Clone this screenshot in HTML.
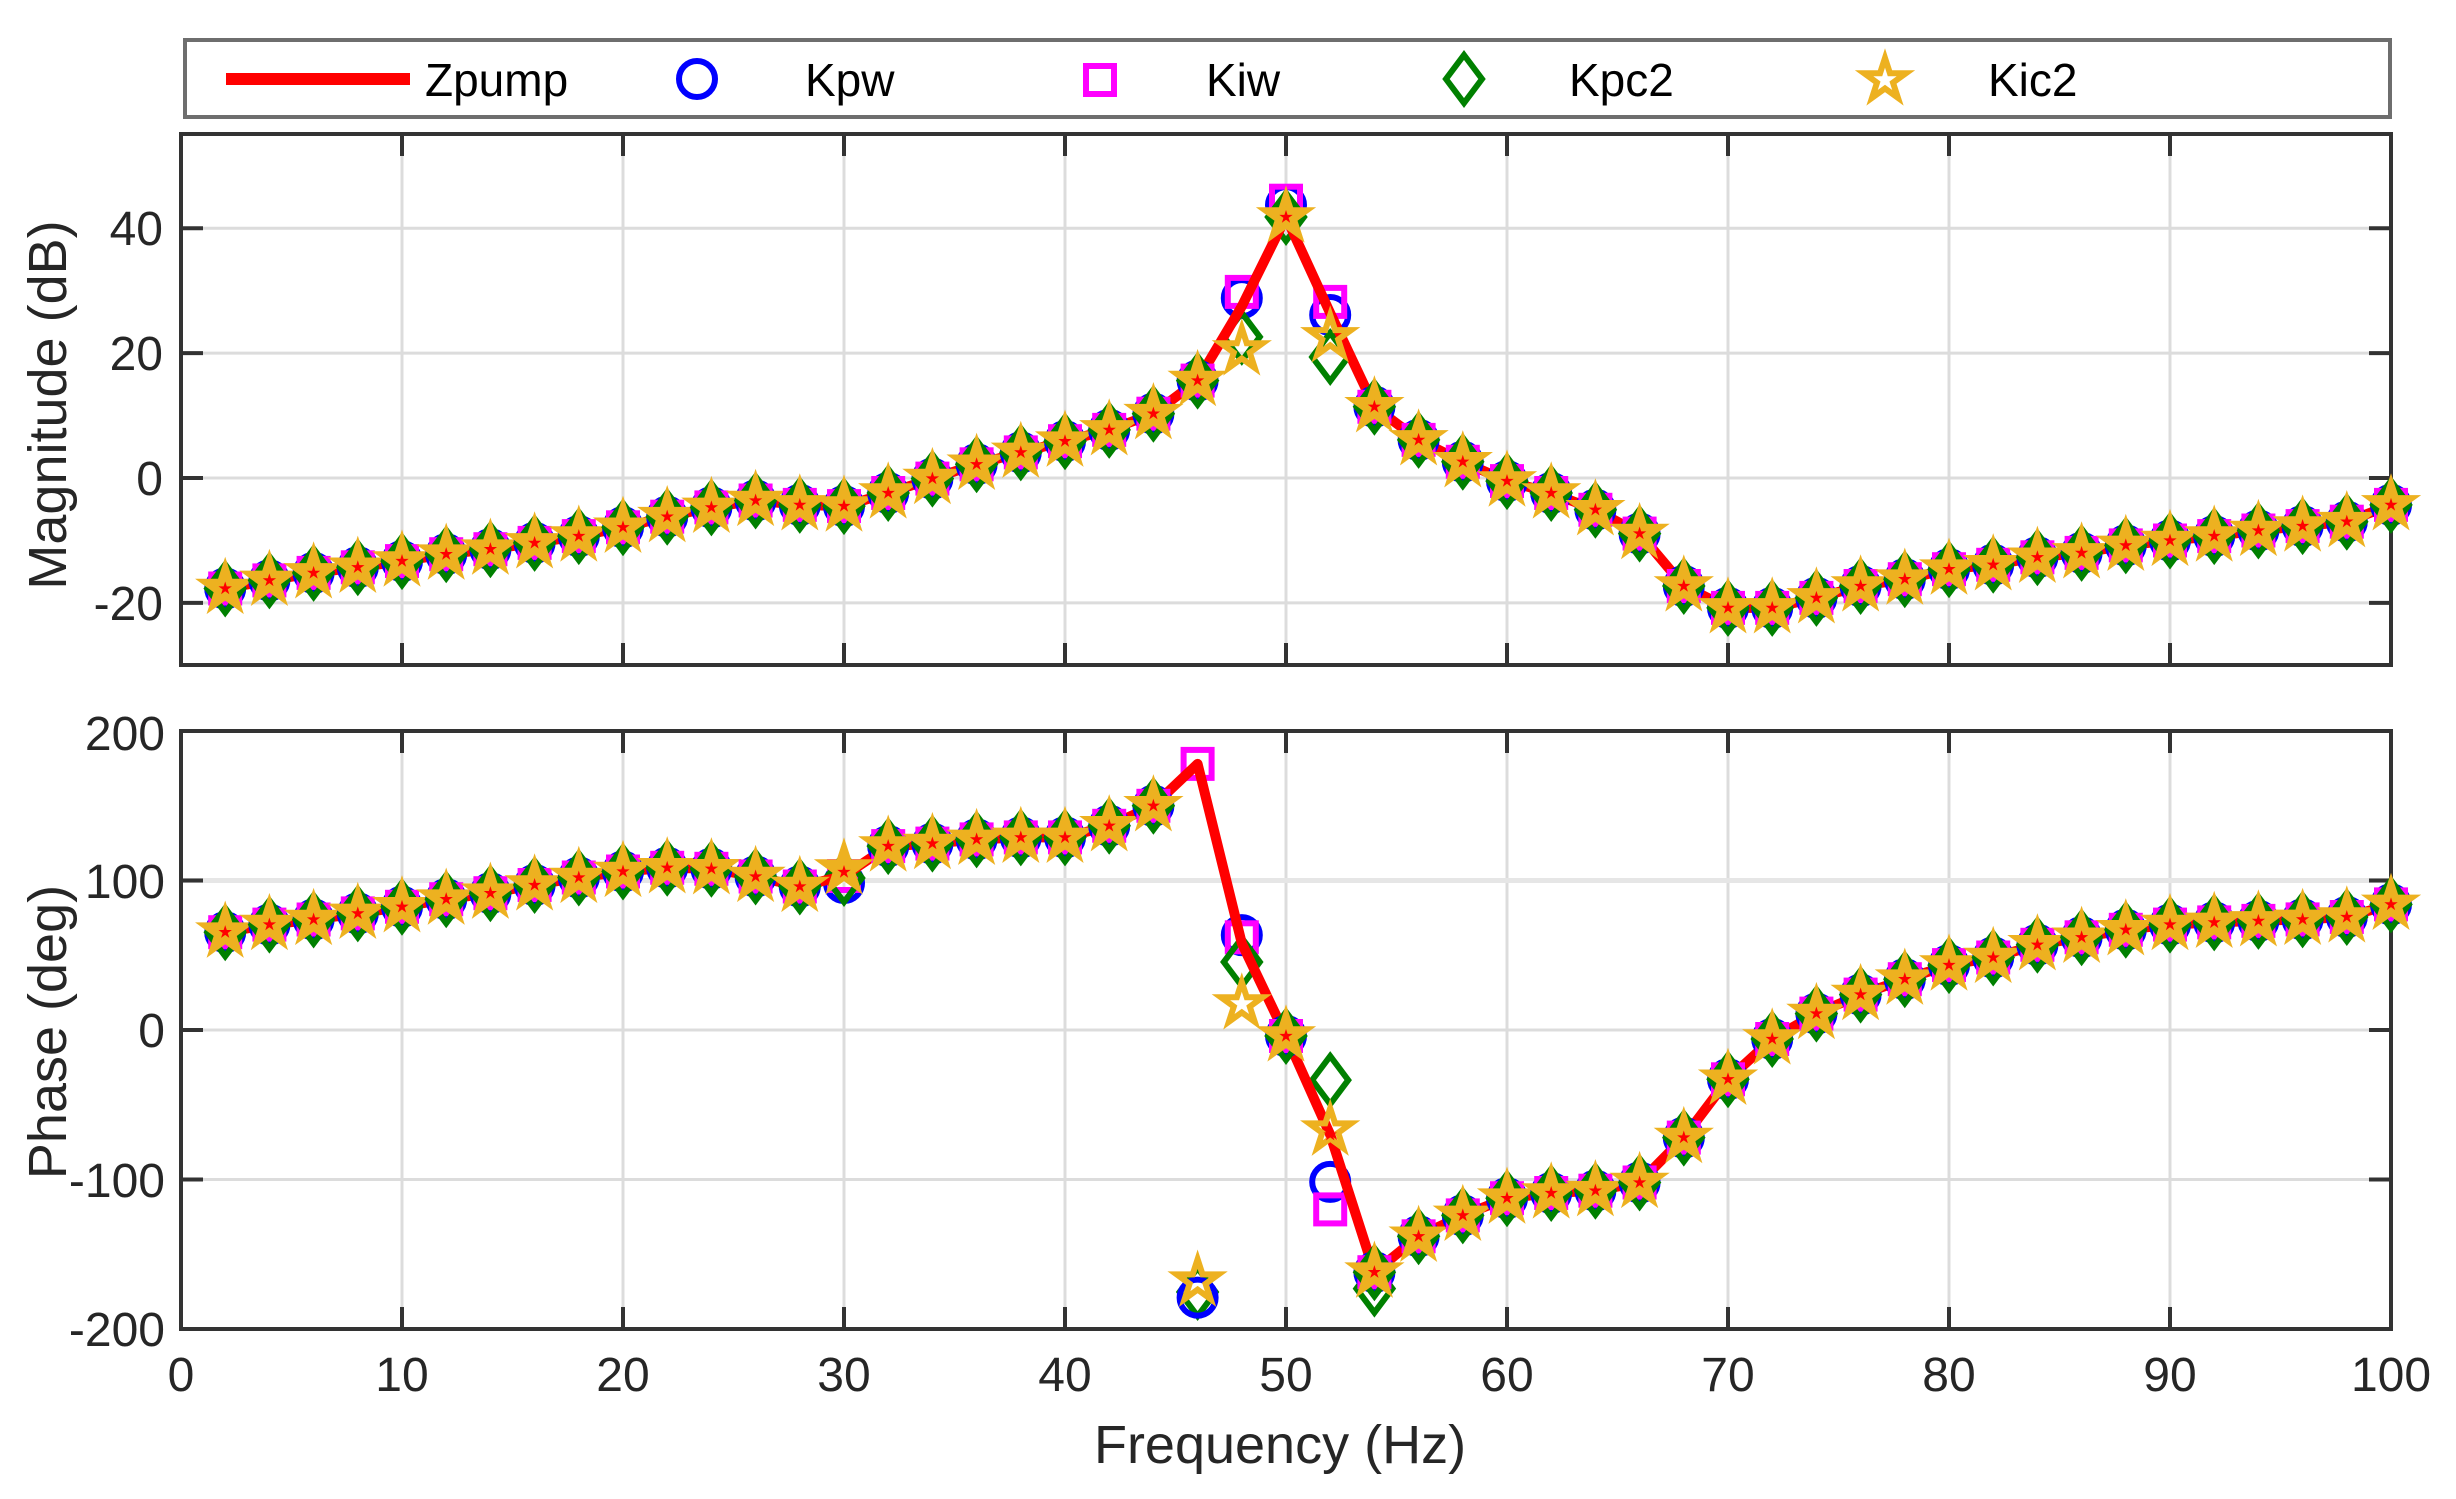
<!DOCTYPE html>
<html><head><meta charset="utf-8"><style>
html,body{margin:0;padding:0;background:#fff;}
svg{display:block;}
text{font-family:"Liberation Sans",Arial,sans-serif;}
</style></head><body>
<svg width="2456" height="1499" viewBox="0 0 2456 1499" xmlns="http://www.w3.org/2000/svg">
<defs>
<circle id="mc" r="18" fill="none" stroke="#0000ff" stroke-width="6"/>
<rect id="ms" x="-14" y="-14" width="28" height="28" fill="none" stroke="#ff00ff" stroke-width="6"/>
<path id="md" d="M0,-24L18,0L0,24L-18,0Z" fill="none" stroke="#008000" stroke-width="6"/>
<path id="mph" d="M0,-22L4.94,-6.8L20.92,-6.8L7.99,2.6L12.93,17.8L0,8.4L-12.93,17.8L-7.99,2.6L-20.92,-6.8L-4.94,-6.8Z" fill="none" stroke="#EDB120" stroke-width="6"/>
<path id="mpf" d="M0,-22L4.94,-6.8L20.92,-6.8L7.99,2.6L12.93,17.8L0,8.4L-12.93,17.8L-7.99,2.6L-20.92,-6.8L-4.94,-6.8Z" fill="#EDB120" stroke="#EDB120" stroke-width="6"/>
<path id="ma" d="M0,-22L4.94,-6.8L20.92,-6.8L7.99,2.6L12.93,17.8L0,8.4L-12.93,17.8L-7.99,2.6L-20.92,-6.8L-4.94,-6.8Z" transform="scale(0.32)" fill="#ff0000"/>
<g id="k"><use href="#mc"/><use href="#ms"/><use href="#md"/><use href="#mpf"/><use href="#ma"/></g>
</defs>

<!-- Legend -->
<rect x="185" y="40" width="2205" height="77" fill="#fff" stroke="#6e6e6e" stroke-width="4"/>
<line x1="226" y1="79" x2="410" y2="79" stroke="#ff0000" stroke-width="12"/>
<text x="425" y="96" font-size="46" fill="#000">Zpump</text>
<use href="#mc" x="697" y="79"/>
<text x="805" y="96" font-size="46" fill="#000">Kpw</text>
<use href="#ms" x="1100" y="80"/>
<text x="1206" y="96" font-size="46" fill="#000">Kiw</text>
<use href="#md" x="1464" y="79"/>
<text x="1569" y="96" font-size="46" fill="#000">Kpc2</text>
<use href="#mph" x="1885" y="80"/>
<text x="1988" y="96" font-size="46" fill="#000">Kic2</text>

<!-- ===== Magnitude axes ===== -->
<rect x="181" y="134" width="2210" height="531" fill="#fff"/>
<g stroke="#dcdcdc" stroke-width="3">
<line x1="402" y1="134" x2="402" y2="665"/><line x1="623" y1="134" x2="623" y2="665"/><line x1="844" y1="134" x2="844" y2="665"/><line x1="1065" y1="134" x2="1065" y2="665"/><line x1="1286" y1="134" x2="1286" y2="665"/><line x1="1507" y1="134" x2="1507" y2="665"/><line x1="1728" y1="134" x2="1728" y2="665"/><line x1="1949" y1="134" x2="1949" y2="665"/><line x1="2170" y1="134" x2="2170" y2="665"/>
<line x1="181" y1="228.2" x2="2391" y2="228.2"/><line x1="181" y1="353.1" x2="2391" y2="353.1"/><line x1="181" y1="478" x2="2391" y2="478"/><line x1="181" y1="602.9" x2="2391" y2="602.9"/>
</g>
<rect x="181" y="134" width="2210" height="531" fill="none" stroke="#333" stroke-width="4"/>
<g stroke="#333" stroke-width="4">
<line x1="402" y1="665" x2="402" y2="643"/><line x1="623" y1="665" x2="623" y2="643"/><line x1="844" y1="665" x2="844" y2="643"/><line x1="1065" y1="665" x2="1065" y2="643"/><line x1="1286" y1="665" x2="1286" y2="643"/><line x1="1507" y1="665" x2="1507" y2="643"/><line x1="1728" y1="665" x2="1728" y2="643"/><line x1="1949" y1="665" x2="1949" y2="643"/><line x1="2170" y1="665" x2="2170" y2="643"/>
<line x1="402" y1="134" x2="402" y2="156"/><line x1="623" y1="134" x2="623" y2="156"/><line x1="844" y1="134" x2="844" y2="156"/><line x1="1065" y1="134" x2="1065" y2="156"/><line x1="1286" y1="134" x2="1286" y2="156"/><line x1="1507" y1="134" x2="1507" y2="156"/><line x1="1728" y1="134" x2="1728" y2="156"/><line x1="1949" y1="134" x2="1949" y2="156"/><line x1="2170" y1="134" x2="2170" y2="156"/>
<line x1="181" y1="228.2" x2="203" y2="228.2"/><line x1="181" y1="353.1" x2="203" y2="353.1"/><line x1="181" y1="478" x2="203" y2="478"/><line x1="181" y1="602.9" x2="203" y2="602.9"/>
<line x1="2391" y1="228.2" x2="2369" y2="228.2"/><line x1="2391" y1="353.1" x2="2369" y2="353.1"/><line x1="2391" y1="478" x2="2369" y2="478"/><line x1="2391" y1="602.9" x2="2369" y2="602.9"/>
</g>
<g font-size="48" fill="#262626" text-anchor="end">
<text x="163" y="245">40</text><text x="163" y="370">20</text><text x="163" y="495">0</text><text x="163" y="620">-20</text>
</g>
<text transform="translate(66,405) rotate(-90)" font-size="54" fill="#262626" text-anchor="middle">Magnitude (dB)</text>

<!-- magnitude outliers (under line) -->
<use href="#mc" x="1241.8" y="298.1"/><use href="#ms" x="1241.8" y="291.9"/><use href="#md" x="1241.8" y="336.9"/>
<use href="#mc" x="1286" y="205.1"/><use href="#ms" x="1286" y="200.7"/><use href="#md" x="1286" y="217"/>
<use href="#mc" x="1330.2" y="315"/><use href="#ms" x="1330.2" y="301.9"/><use href="#md" x="1330.2" y="357"/>

<polyline fill="none" stroke="#ff0000" stroke-width="10" stroke-linejoin="round" points="225.2,588.5 269.4,580.4 313.6,572.9 357.8,567.3 402,561.1 446.2,554.2 490.4,549.2 534.6,542.9 578.8,536.1 623,527.3 667.2,516.7 711.4,507.4 755.6,500.5 799.8,504.9 844,506.1 888.2,493 932.4,478.6 976.6,464.3 1020.8,452.4 1065,441.2 1109.2,429.9 1153.4,413.7 1197.6,380.6 1241.8,306.3 1286,217 1330.2,313.1 1374.4,406.8 1418.6,439.9 1462.8,461.8 1507,481.1 1551.2,493 1595.4,509.8 1639.6,533.6 1683.8,586 1728,607.9 1772.2,607.9 1816.4,597.9 1860.6,586 1904.8,579.2 1949,569.2 1993.2,564.8 2037.4,557.3 2081.6,552.9 2125.8,545.4 2170,540.5 2214.2,536.1 2258.4,530.5 2302.6,526.1 2346.8,521.7 2391,504.9"/>

<use href="#k" x="225.2" y="588.5"/><use href="#k" x="269.4" y="580.4"/><use href="#k" x="313.6" y="572.9"/><use href="#k" x="357.8" y="567.3"/><use href="#k" x="402" y="561.1"/><use href="#k" x="446.2" y="554.2"/><use href="#k" x="490.4" y="549.2"/><use href="#k" x="534.6" y="542.9"/><use href="#k" x="578.8" y="536.1"/><use href="#k" x="623" y="527.3"/><use href="#k" x="667.2" y="516.7"/><use href="#k" x="711.4" y="507.4"/><use href="#k" x="755.6" y="500.5"/><use href="#k" x="799.8" y="504.9"/><use href="#k" x="844" y="506.1"/><use href="#k" x="888.2" y="493"/><use href="#k" x="932.4" y="478.6"/><use href="#k" x="976.6" y="464.3"/><use href="#k" x="1020.8" y="452.4"/><use href="#k" x="1065" y="441.2"/><use href="#k" x="1109.2" y="429.9"/><use href="#k" x="1153.4" y="413.7"/><use href="#k" x="1197.6" y="380.6"/>
<use href="#k" x="1374.4" y="406.8"/><use href="#k" x="1418.6" y="439.9"/><use href="#k" x="1462.8" y="461.8"/><use href="#k" x="1507" y="481.1"/><use href="#k" x="1551.2" y="493"/><use href="#k" x="1595.4" y="509.8"/><use href="#k" x="1639.6" y="533.6"/><use href="#k" x="1683.8" y="586"/><use href="#k" x="1728" y="607.9"/><use href="#k" x="1772.2" y="607.9"/><use href="#k" x="1816.4" y="597.9"/><use href="#k" x="1860.6" y="586"/><use href="#k" x="1904.8" y="579.2"/><use href="#k" x="1949" y="569.2"/><use href="#k" x="1993.2" y="564.8"/><use href="#k" x="2037.4" y="557.3"/><use href="#k" x="2081.6" y="552.9"/><use href="#k" x="2125.8" y="545.4"/><use href="#k" x="2170" y="540.5"/><use href="#k" x="2214.2" y="536.1"/><use href="#k" x="2258.4" y="530.5"/><use href="#k" x="2302.6" y="526.1"/><use href="#k" x="2346.8" y="521.7"/><use href="#k" x="2391" y="504.9"/>

<use href="#mph" x="1241.8" y="350"/>
<use href="#mpf" x="1286" y="217"/><use href="#ma" x="1286" y="217"/>
<use href="#mph" x="1330.2" y="336.9"/>

<!-- ===== Phase axes ===== -->
<rect x="181" y="731" width="2210" height="598" fill="#fff"/>
<g stroke="#dcdcdc" stroke-width="3">
<line x1="402" y1="731" x2="402" y2="1329"/><line x1="623" y1="731" x2="623" y2="1329"/><line x1="844" y1="731" x2="844" y2="1329"/><line x1="1065" y1="731" x2="1065" y2="1329"/><line x1="1286" y1="731" x2="1286" y2="1329"/><line x1="1507" y1="731" x2="1507" y2="1329"/><line x1="1728" y1="731" x2="1728" y2="1329"/><line x1="1949" y1="731" x2="1949" y2="1329"/><line x1="2170" y1="731" x2="2170" y2="1329"/>
<line x1="181" y1="880.5" x2="2391" y2="880.5" stroke-width="5" stroke="#e6e6e6"/><line x1="181" y1="1030" x2="2391" y2="1030"/><line x1="181" y1="1179.5" x2="2391" y2="1179.5"/>
</g>
<rect x="181" y="731" width="2210" height="598" fill="none" stroke="#333" stroke-width="4"/>
<g stroke="#333" stroke-width="4">
<line x1="402" y1="1329" x2="402" y2="1307"/><line x1="623" y1="1329" x2="623" y2="1307"/><line x1="844" y1="1329" x2="844" y2="1307"/><line x1="1065" y1="1329" x2="1065" y2="1307"/><line x1="1286" y1="1329" x2="1286" y2="1307"/><line x1="1507" y1="1329" x2="1507" y2="1307"/><line x1="1728" y1="1329" x2="1728" y2="1307"/><line x1="1949" y1="1329" x2="1949" y2="1307"/><line x1="2170" y1="1329" x2="2170" y2="1307"/>
<line x1="402" y1="731" x2="402" y2="753"/><line x1="623" y1="731" x2="623" y2="753"/><line x1="844" y1="731" x2="844" y2="753"/><line x1="1065" y1="731" x2="1065" y2="753"/><line x1="1286" y1="731" x2="1286" y2="753"/><line x1="1507" y1="731" x2="1507" y2="753"/><line x1="1728" y1="731" x2="1728" y2="753"/><line x1="1949" y1="731" x2="1949" y2="753"/><line x1="2170" y1="731" x2="2170" y2="753"/>
<line x1="181" y1="880.5" x2="203" y2="880.5"/><line x1="181" y1="1030" x2="203" y2="1030"/><line x1="181" y1="1179.5" x2="203" y2="1179.5"/>
<line x1="2391" y1="880.5" x2="2369" y2="880.5"/><line x1="2391" y1="1030" x2="2369" y2="1030"/><line x1="2391" y1="1179.5" x2="2369" y2="1179.5"/>
</g>
<g font-size="48" fill="#262626" text-anchor="end">
<text x="165" y="750">200</text><text x="165" y="898">100</text><text x="165" y="1047">0</text><text x="165" y="1197">-100</text><text x="165" y="1346">-200</text>
</g>
<g font-size="48" fill="#262626" text-anchor="middle">
<text x="181" y="1391">0</text><text x="402" y="1391">10</text><text x="623" y="1391">20</text><text x="844" y="1391">30</text><text x="1065" y="1391">40</text><text x="1286" y="1391">50</text><text x="1507" y="1391">60</text><text x="1728" y="1391">70</text><text x="1949" y="1391">80</text><text x="2170" y="1391">90</text><text x="2391" y="1391">100</text>
</g>
<text transform="translate(66,1032) rotate(-90)" font-size="54" fill="#262626" text-anchor="middle">Phase (deg)</text>
<text x="1280" y="1463" font-size="54" fill="#262626" text-anchor="middle">Frequency (Hz)</text>

<!-- phase outliers (under line) -->
<use href="#mc" x="844" y="883"/><use href="#ms" x="844" y="876"/><use href="#md" x="844" y="878"/>
<use href="#ms" x="1197.6" y="763.9"/>
<use href="#md" x="1197.6" y="1292"/><use href="#mc" x="1197.6" y="1297.6"/>
<use href="#mc" x="1241.8" y="935.1"/><use href="#ms" x="1241.8" y="937.3"/><use href="#md" x="1241.8" y="962"/>
<use href="#mc" x="1330.2" y="1181.9"/><use href="#ms" x="1330.2" y="1209.4"/><use href="#md" x="1330.2" y="1080.1"/>
<use href="#md" x="1374.4" y="1288.6"/>

<polyline fill="none" stroke="#ff0000" stroke-width="10" stroke-linejoin="round" points="225.2,932.2 269.4,924.6 313.6,919.5 357.8,913.4 402,906.8 446.2,899.2 490.4,893.2 534.6,885 578.8,877.5 623,871.5 667.2,867.8 711.4,868.8 755.6,876.5 799.8,886.5 844,876 888.2,846.1 932.4,843.6 976.6,839.4 1020.8,837.4 1065,837.4 1109.2,825.8 1153.4,805.8 1197.6,763.9 1241.8,943.3 1286,1036 1330.2,1134.7 1374.4,1272.2 1418.6,1236.3 1462.8,1215.4 1507,1198.2 1551.2,1193 1595.4,1190.7 1639.6,1182.5 1683.8,1137.6 1728,1079.3 1772.2,1039 1816.4,1013.6 1860.6,994.6 1904.8,979.2 1949,965.1 1993.2,957.5 2037.4,944.8 2081.6,937.3 2125.8,929.8 2170,924.6 2214.2,922.4 2258.4,920.9 2302.6,919.4 2346.8,917 2391,904.4"/>

<use href="#k" x="225.2" y="932.2"/><use href="#k" x="269.4" y="924.6"/><use href="#k" x="313.6" y="919.5"/><use href="#k" x="357.8" y="913.4"/><use href="#k" x="402" y="906.8"/><use href="#k" x="446.2" y="899.2"/><use href="#k" x="490.4" y="893.2"/><use href="#k" x="534.6" y="885"/><use href="#k" x="578.8" y="877.5"/><use href="#k" x="623" y="871.5"/><use href="#k" x="667.2" y="867.8"/><use href="#k" x="711.4" y="868.8"/><use href="#k" x="755.6" y="876.5"/><use href="#k" x="799.8" y="886.5"/>
<use href="#k" x="888.2" y="846.1"/><use href="#k" x="932.4" y="843.6"/><use href="#k" x="976.6" y="839.4"/><use href="#k" x="1020.8" y="837.4"/><use href="#k" x="1065" y="837.4"/><use href="#k" x="1109.2" y="825.8"/><use href="#k" x="1153.4" y="805.8"/>
<use href="#k" x="1286" y="1036"/>
<use href="#k" x="1374.4" y="1272.2"/>
<use href="#k" x="1418.6" y="1236.3"/><use href="#k" x="1462.8" y="1215.4"/><use href="#k" x="1507" y="1198.2"/><use href="#k" x="1551.2" y="1193"/><use href="#k" x="1595.4" y="1190.7"/><use href="#k" x="1639.6" y="1182.5"/><use href="#k" x="1683.8" y="1137.6"/><use href="#k" x="1728" y="1079.3"/><use href="#k" x="1772.2" y="1039"/><use href="#k" x="1816.4" y="1013.6"/><use href="#k" x="1860.6" y="994.6"/><use href="#k" x="1904.8" y="979.2"/><use href="#k" x="1949" y="965.1"/><use href="#k" x="1993.2" y="957.5"/><use href="#k" x="2037.4" y="944.8"/><use href="#k" x="2081.6" y="937.3"/><use href="#k" x="2125.8" y="929.8"/><use href="#k" x="2170" y="924.6"/><use href="#k" x="2214.2" y="922.4"/><use href="#k" x="2258.4" y="920.9"/><use href="#k" x="2302.6" y="919.4"/><use href="#k" x="2346.8" y="917"/><use href="#k" x="2391" y="904.4"/>

<use href="#mpf" x="844" y="869"/><use href="#ma" x="844" y="872"/>
<use href="#mph" x="1197.6" y="1281.2"/>
<use href="#mph" x="1241.8" y="1004"/>
<use href="#mph" x="1330.2" y="1130.2"/><use href="#ma" x="1330.2" y="1134.7"/>
</svg>
</body></html>
